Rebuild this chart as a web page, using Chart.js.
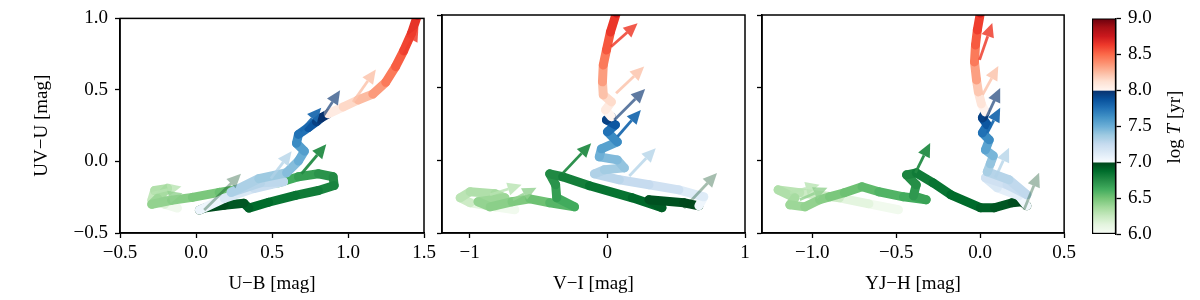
<!DOCTYPE html>
<html>
<head>
<meta charset="utf-8">
<script src="https://cdn.jsdelivr.net/npm/chart.js@4.4.1/dist/chart.umd.min.js"></script>
<style>
  body { margin: 0; background: #fff; }
  #wrap { position: relative; width: 1200px; height: 300px; overflow: hidden; }
  #wrap canvas { position: absolute; top: 0; }
  #cblabel {
    position: absolute; left: 1115px; top: 115px; width: 120px; height: 24px;
    line-height: 24px; text-align: center; transform: rotate(-90deg);
    font: 19px 'Liberation Serif', serif; color: #000; white-space: nowrap;
  }
</style>
</head>
<body>
<div id="wrap">
  <canvas id="c1" width="440" height="300" style="left:0px"></canvas>
  <canvas id="c2" width="330" height="300" style="left:430px"></canvas>
  <canvas id="c3" width="330" height="300" style="left:750px"></canvas>
  <canvas id="cb" width="120" height="300" style="left:1080px"></canvas>
  <div id="cblabel">log <i>T</i> [yr]</div>
</div>
<script>
// --- data: tracks (colour vs UV-U) coloured by log age ---
const ubAge = [6.0,6.1,6.22,6.3,6.34,6.37,6.4,6.43,6.46,6.5,6.55,6.6,6.65,6.7,6.74,6.77,6.8,6.83,6.86,6.9,6.93,6.96,6.99,
  7.0,7.1,7.2,7.26,7.29,7.31,7.35,7.4,7.47,7.54,7.6,7.7,7.8,7.9,7.97,
  8.02,8.1,8.2,8.3,8.4,8.5,8.57,8.63,8.68,8.8,9.0];
const ubX = [-0.122,-0.206,-0.291,-0.272,-0.187,-0.252,-0.291,-0.161,-0.024,0.152,0.348,0.544,0.674,0.805,0.902,0.909,0.805,0.655,0.478,0.348,0.315,0.185,0.054,
  0.022,0.185,0.381,0.576,0.426,0.231,0.413,0.596,0.674,0.713,0.661,0.674,0.739,0.792,0.824,
  0.870,0.968,1.066,1.163,1.248,1.313,1.366,1.418,1.457,1.5,1.55];
const ubY = [-0.326,-0.299,-0.271,-0.203,-0.189,-0.258,-0.299,-0.271,-0.251,-0.216,-0.182,-0.148,-0.107,-0.086,-0.107,-0.168,-0.203,-0.237,-0.285,-0.326,-0.292,-0.306,-0.326,
  -0.340,-0.258,-0.189,-0.141,-0.148,-0.216,-0.120,-0.079,0.003,0.072,0.127,0.189,0.237,0.278,0.306,
  0.333,0.381,0.430,0.471,0.553,0.663,0.773,0.897,1.021,1.2,1.5];

const viAge = [6.0,6.08,6.18,6.27,6.31,6.34,6.37,6.4,6.42,6.45,6.49,6.54,6.6,6.65,6.7,6.74,6.78,6.83,6.87,6.91,6.94,6.98,
  7.0,7.08,7.17,7.23,7.27,7.3,7.34,7.38,7.42,7.47,7.52,7.6,7.7,7.8,7.9,7.97,
  8.03,8.1,8.18,8.28,8.4,8.5,8.6,8.68,8.8,9.0];
const viX = [-0.671,-0.815,-0.996,-1.068,-0.996,-0.815,-0.743,-0.938,-0.851,-0.692,-0.562,-0.418,-0.238,-0.367,-0.375,-0.418,-0.324,-0.129,0.181,0.397,0.303,0.556,
  0.665,0.701,0.520,0.303,0.088,-0.093,-0.021,0.124,0.073,-0.058,-0.043,0.073,0.001,0.059,-0.006,0.030,
  -0.013,0.030,-0.029,-0.035,-0.029,-0.006,0.023,0.066,0.12,0.2];
const viY = [-0.340,-0.320,-0.292,-0.258,-0.216,-0.230,-0.258,-0.285,-0.320,-0.285,-0.265,-0.292,-0.320,-0.258,-0.168,-0.093,-0.113,-0.175,-0.258,-0.326,-0.271,-0.292,
  -0.313,-0.251,-0.203,-0.168,-0.134,-0.093,-0.065,-0.052,0.003,0.024,0.079,0.127,0.196,0.244,0.278,0.299,
  0.347,0.402,0.450,0.540,0.656,0.759,0.883,1.014,1.2,1.5];

const yjhAge = [6.0,6.08,6.18,6.27,6.31,6.34,6.37,6.4,6.43,6.46,6.5,6.53,6.57,6.6,6.64,6.68,6.72,6.76,6.8,6.83,6.86,6.9,6.93,6.96,6.99,
  7.0,7.06,7.12,7.18,7.22,7.25,7.28,7.32,7.37,7.43,7.5,7.6,7.7,7.8,7.9,7.97,
  8.05,8.15,8.27,8.4,8.5,8.58,8.66,8.8,9.0];
const yjhX = [-0.487,-0.663,-0.839,-1.075,-1.204,-1.104,-1.134,-1.045,-0.957,-0.898,-0.810,-0.704,-0.604,-0.457,-0.322,-0.398,-0.381,-0.439,-0.381,-0.281,-0.175,0.001,0.084,0.190,0.249,
  0.278,0.231,0.102,0.031,0.160,0.278,0.172,0.042,0.060,0.078,0.031,0.054,0.013,0.042,0.013,0.031,
  0.007,-0.011,-0.022,-0.034,-0.028,-0.017,0.001,0.02,0.05];
const yjhY = [-0.340,-0.299,-0.258,-0.223,-0.203,-0.258,-0.306,-0.320,-0.271,-0.251,-0.223,-0.182,-0.216,-0.251,-0.271,-0.244,-0.168,-0.100,-0.086,-0.155,-0.237,-0.326,-0.326,-0.292,-0.285,
  -0.313,-0.244,-0.189,-0.120,-0.168,-0.237,-0.134,-0.079,-0.024,0.031,0.072,0.141,0.189,0.244,0.292,0.333,
  0.388,0.471,0.553,0.677,0.794,0.897,1.014,1.2,1.5];

// arrows: [x0, y0, x1, y1], one per age in arrowAge
const arrowAge = [8.62, 8.22, 7.99, 7.78, 7.32, 6.999, 6.75, 6.3, 6.42];
const ubArrows = [[1.366,0.746,1.463,0.938],[1.033,0.416,1.183,0.643],[0.805,0.265,0.948,0.498],[0.687,0.210,0.824,0.375],
  [0.492,-0.120,0.629,0.072],[0.054,-0.340,0.296,-0.086],[0.694,-0.086,0.857,0.120],[-0.291,-0.223,-0.096,-0.175],[-0.239,-0.265,-0.089,-0.223]];
const viArrows = [[0.027,0.782,0.220,0.943],[0.064,0.462,0.268,0.645],[0.051,0.278,0.275,0.491],[0.075,0.164,0.244,0.347],
  [0.160,-0.108,0.352,0.084],[0.557,-0.329,0.797,-0.088],[-0.322,-0.088,-0.117,0.118],[-0.851,-0.237,-0.622,-0.168],[-0.685,-0.271,-0.514,-0.188]];
const yjhArrows = [[-0.004,0.691,0.072,0.945],[0.014,0.450,0.108,0.649],[0.031,0.278,0.119,0.498],[0.042,0.189,0.119,0.361],
  [0.090,-0.120,0.172,0.086],[0.261,-0.340,0.351,-0.086],[-0.386,-0.086,-0.298,0.120],[-1.134,-0.223,-0.957,-0.168],[-1.075,-0.271,-0.910,-0.189]];

// ticks
const uvTicks = [-0.5, 0, 0.5, 1.0];
const ubTicks = [-0.5, 0, 0.5, 1.0, 1.5];
const viTicks = [-1, 0, 1];
const yjhTicks = [-1.0, -0.5, 0, 0.5];
const ageTicks = [6.0, 6.5, 7.0, 7.5, 8.0, 8.5, 9.0];

// --- colours ---
const greens = ['#f7fcf5','#e5f5e0','#c7e9c0','#a1d99b','#74c476','#41ab5d','#238b45','#006d2c','#00441b'];
const blues = ['#f7fbff','#deebf7','#c6dbef','#9ecae1','#6baed6','#4292c6','#2171b5','#08519c','#08306b'];
const reds = ['#fff5f0','#fee0d2','#fcbba1','#fc9272','#fb6a4a','#ef3b2c','#cb181d','#a50f15','#67000d'];
const arrowAlpha = [0.85, 0.85, 0.65, 0.95, 0.75, 0.35, 0.95, 0.8, 0.8];

function hexRgb(h) {
  return [1, 3, 5].map(i => parseInt(h.substr(i, 2), 16));
}

function ramp(stops, f) {
  f = Math.max(0, Math.min(1, f));
  const p = f * (stops.length - 1);
  const i = Math.min(Math.floor(p), stops.length - 2);
  const a = hexRgb(stops[i]), b = hexRgb(stops[i + 1]);
  const k = p - i;
  return a.map((v, j) => Math.round(v + (b[j] - v) * k));
}

function ageColor(t, alpha = 1) {
  let c;
  if (t < 7) c = ramp(greens, t - 6);
  else if (t < 8) c = ramp(blues, t - 7);
  else c = ramp(reds, t - 8);
  return `rgba(${c[0]},${c[1]},${c[2]},${alpha})`;
}

const fmt1 = v => (v < 0 ? '\u2212' : '') + Math.abs(v).toFixed(1);
const fmt0 = v => (v < 0 ? '\u2212' : '') + Math.abs(v).toFixed(0);

Chart.defaults.font.family = "'Liberation Serif', serif";
Chart.defaults.font.size = 19;
Chart.defaults.color = '#000';

// arrows drawn through the scales
const arrowPlugin = {
  id: 'arrows',
  afterDatasetsDraw(chart, args, opts) {
    const { ctx, chartArea: a, scales: { x, y } } = chart;
    ctx.save();
    ctx.beginPath();
    ctx.rect(a.left, a.top, a.right - a.left, a.bottom - a.top);
    ctx.clip();
    opts.list.forEach((ar, i) => {
      const x0 = x.getPixelForValue(ar[0]), y0 = y.getPixelForValue(ar[1]);
      const x1 = x.getPixelForValue(ar[2]), y1 = y.getPixelForValue(ar[3]);
      const ang = Math.atan2(y1 - y0, x1 - x0);
      const hl = 14, hw = 6.5;
      const bx = x1 - hl * Math.cos(ang), by = y1 - hl * Math.sin(ang);
      const col = ageColor(arrowAge[i], arrowAlpha[i]);
      ctx.strokeStyle = col;
      ctx.fillStyle = col;
      ctx.lineWidth = 2.8;
      ctx.beginPath();
      ctx.moveTo(x0, y0);
      ctx.lineTo(bx, by);
      ctx.stroke();
      ctx.beginPath();
      ctx.moveTo(x1, y1);
      ctx.lineTo(bx + hw * Math.sin(ang), by - hw * Math.cos(ang));
      ctx.lineTo(bx - hw * Math.sin(ang), by + hw * Math.cos(ang));
      ctx.closePath();
      ctx.fill();
    });
    ctx.restore();
  }
};

// full box round the axes
const framePlugin = {
  id: 'frame',
  afterDraw(chart) {
    const { ctx, chartArea: a } = chart;
    ctx.save();
    ctx.strokeStyle = '#000';
    ctx.lineWidth = 1.5;
    ctx.strokeRect(a.left, a.top, a.right - a.left, a.bottom - a.top);
    ctx.restore();
  }
};

const tickGrid = { drawOnChartArea: false, drawTicks: true, tickLength: 5, tickWidth: 1.3, tickColor: '#000' };
const axisBorder = { display: true, color: '#000', width: 1.5 };

function makePanel(id, xs, ys, ages, arrows, cfg) {
  const data = xs.map((x, i) => ({ x, y: ys[i] }));
  return new Chart(document.getElementById(id), {
    type: 'line',
    data: {
      datasets: [{
        data: data,
        borderWidth: 9,
        borderColor: ageColor(ages[0]),
        borderCapStyle: 'round',
        borderJoinStyle: 'round',
        pointRadius: 0,
        tension: 0,
        clip: 0,
        segment: {
          borderColor: c => ageColor((ages[c.p0DataIndex] + ages[c.p1DataIndex]) / 2)
        }
      }]
    },
    options: {
      responsive: false,
      animation: false,
      events: [],
      layout: { padding: { left: 0, right: cfg.padRight, top: 15, bottom: 0 } },
      plugins: { legend: { display: false }, tooltip: { enabled: false }, arrows: { list: arrows } },
      scales: {
        x: {
          type: 'linear',
          min: cfg.xMin,
          max: cfg.xMax,
          afterBuildTicks: s => { s.ticks = cfg.xTicks.map(v => ({ value: v })); },
          afterFit: s => { s.height = 67; },
          ticks: { callback: cfg.xFmt, padding: 4, maxRotation: 0 },
          grid: tickGrid,
          border: axisBorder,
          title: { display: true, text: cfg.xTitle, padding: { top: 0, bottom: 5 } }
        },
        y: {
          type: 'linear',
          min: -0.5,
          max: 1.0,
          afterBuildTicks: s => { s.ticks = uvTicks.map(v => ({ value: v })); },
          afterFit: s => { s.width = cfg.yWidth; },
          ticks: { display: cfg.yLabels, callback: fmt1, padding: 7 },
          grid: tickGrid,
          border: axisBorder,
          title: { display: cfg.yLabels, text: 'UV\u2212U [mag]', padding: { top: 31, bottom: 0 } }
        }
      }
    },
    plugins: [arrowPlugin, framePlugin]
  });
}

makePanel('c1', ubX, ubY, ubAge, ubArrows,
  { xMin: -0.5, xMax: 1.5, xTicks: ubTicks, xFmt: fmt1, xTitle: 'U\u2212B [mag]', yWidth: 120, padRight: 16, yLabels: true });
makePanel('c2', viX, viY, viAge, viArrows,
  { xMin: -1.2, xMax: 1.0, xTicks: viTicks, xFmt: fmt0, xTitle: 'V\u2212I [mag]', yWidth: 12, padRight: 15, yLabels: false });
makePanel('c3', yjhX, yjhY, yjhAge, yjhArrows,
  { xMin: -1.3, xMax: 0.5, xTicks: yjhTicks, xFmt: fmt1, xTitle: 'YJ\u2212H [mag]', yWidth: 12, padRight: 12, yLabels: false });

// colour bar
new Chart(document.getElementById('cb'), {
  type: 'bar',
  data: {
    labels: ['age'],
    datasets: [{
      data: [[ageTicks[0], ageTicks[ageTicks.length - 1]]],
      barPercentage: 1,
      categoryPercentage: 1,
      borderWidth: 1.5,
      borderColor: '#000',
      borderSkipped: false,
      backgroundColor: c => {
        const a = c.chart.chartArea;
        if (!a) return '#fff';
        const g = c.chart.ctx.createLinearGradient(0, a.bottom, 0, a.top);
        for (let i = 0; i <= 300; i++) {
          const t = Math.min(6 + 3 * i / 300, 8.9999);
          g.addColorStop(i / 300, ageColor(t));
        }
        return g;
      }
    }]
  },
  options: {
    responsive: false,
    animation: false,
    events: [],
    layout: { padding: { left: 12, right: 0, top: 15, bottom: 66 } },
    plugins: { legend: { display: false }, tooltip: { enabled: false } },
    scales: {
      x: { display: false },
      y: {
        position: 'right',
        min: 6,
        max: 9,
        afterBuildTicks: s => { s.ticks = ageTicks.map(v => ({ value: v })); },
        afterFit: s => { s.width = 84; },
        ticks: { callback: fmt1, padding: 7 },
        grid: tickGrid,
        border: axisBorder
      }
    }
  }
});
</script>
</body>
</html>
